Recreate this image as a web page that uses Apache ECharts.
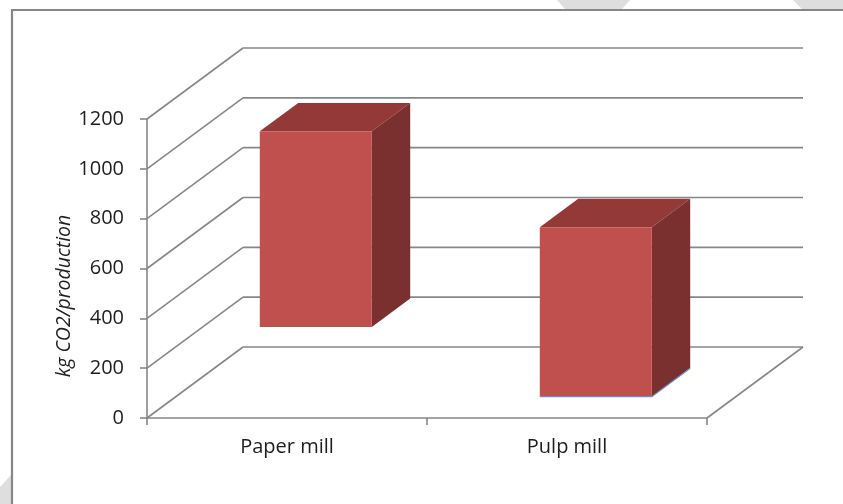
<!DOCTYPE html>
<html><head><meta charset="utf-8">
<script src="https://cdn.jsdelivr.net/npm/echarts@6/dist/echarts.min.js"></script>
<style>html,body{margin:0;padding:0;background:#fff}#c{width:843px;height:504px}</style>
</head><body><div id="c"></div>
<script>
// ---- data ----
const categories = ['Paper mill', 'Pulp mill'];
const baseValues = [280, 0];     // invisible lower part of each floating bar
const barValues = [785, 680];    // visible part of each bar
const yTicks = [0, 200, 400, 600, 800, 1000, 1200];
const yTitle = 'kg CO2/production';

// ---- 3D styling ----
const DX = 96, DY = -71;             // depth of the 3D box (px)
const FRONT = 0.3, DEPTH = 0.4, BAR_W = 0.4;
const axisColor = '#878787';
const textColor = '#1e1e1e';
const FONT = 'Open Sans';
const wallStyle = {stroke: axisColor, lineWidth: 1.6, fill: null};

const chart = echarts.init(document.getElementById('c'), null, {renderer: 'canvas'});

function wallItem(params, api) {
  const cs = params.coordSys;
  const y = api.coord([0, api.value(1)])[1];
  const x0 = cs.x, x1 = cs.x + cs.width;
  const children = [
    {type: 'line', shape: {x1: x0, y1: y, x2: x0 + DX, y2: y + DY}, style: wallStyle},
    {type: 'line', shape: {x1: x0 + DX, y1: y + DY, x2: x1 + DX, y2: y + DY}, style: wallStyle}
  ];
  if (api.value(1) === 0) {
    children.push({type: 'line', shape: {x1: x1, y1: y, x2: x1 + DX, y2: y + DY}, style: wallStyle});
  }
  return {type: 'group', children};
}

function barItem(params, api) {
  const ci = api.value(0);
  const base = api.value(1), h = api.value(2);
  const band = api.size([1, 0])[0];
  const c = api.coord([ci, base]);
  const t = api.coord([ci, base + h]);
  const fx = FRONT * DX, fy = FRONT * DY, bx = DEPTH * DX, by = DEPTH * DY;
  const w = band * BAR_W;
  const L = c[0] - w / 2 + fx, R = L + w;
  const B = c[1] + fy, T = t[1] + fy;
  const children = [
    {type: 'polygon', shape: {points: [[L, T], [R, T], [R + bx, T + by], [L + bx, T + by]]},
     style: {fill: '#933a38'}},
    {type: 'polygon', shape: {points: [[R, T], [R + bx, T + by], [R + bx, B + by], [R, B]]},
     style: {fill: '#7a302e'}},
    {type: 'rect', shape: {x: L, y: T, width: w, height: B - T}, style: {fill: '#c0504d'}}
  ];
  if (base === 0) {
    children.push({type: 'polyline', shape: {points: [[L, B], [R, B], [R + bx, B + by]]},
      style: {stroke: '#6f8fc8', lineWidth: 1.2, fill: null}});
  }
  return {type: 'group', children};
}

const option = {
  animation: false,
  backgroundColor: '#ffffff',
  grid: {left: 147, right: 136, top: 119, bottom: 86, containLabel: false, outerBoundsMode: 'none'},
  xAxis: {
    type: 'category', data: categories,
    axisLine: {show: true, lineStyle: {color: axisColor, width: 1.6}},
    axisTick: {show: true, length: 7, lineStyle: {color: axisColor, width: 1.6}},
    axisLabel: {fontSize: 20, color: textColor, margin: 19, fontFamily: FONT},
    splitLine: {show: false}
  },
  yAxis: {
    type: 'value', min: 0, max: 1200, interval: 200,
    axisLine: {show: true, lineStyle: {color: axisColor, width: 1.6}},
    axisTick: {show: true, length: 7, lineStyle: {color: axisColor, width: 1.6}},
    splitLine: {show: false},
    axisLabel: {fontSize: 20, color: textColor, margin: 23, fontFamily: FONT,
                formatter: v => String(v)}
  },
  graphic: [
    {type: 'polygon', shape: {points: [[557, 0], [630, 0], [622, 9], [565, 9]]}, style: {fill: '#dedede'}, silent: true},
    {type: 'polygon', shape: {points: [[793, 0], [843, 0], [843, 9], [802, 9]]}, style: {fill: '#dedede'}, silent: true},
    {type: 'polygon', shape: {points: [[0, 487], [11, 475], [11, 504], [0, 504]]}, style: {fill: '#dedede'}, silent: true},
    {type: 'rect', shape: {x: 12, y: 10, width: 1000, height: 1000}, style: {fill: null, stroke: axisColor, lineWidth: 2.2}, silent: true},
    {type: 'text', x: 64, y: 296, rotation: Math.PI / 2, silent: true,
     style: {text: yTitle, fontSize: 19.5, fontStyle: 'italic', fontFamily: FONT, fill: textColor,
             align: 'center', verticalAlign: 'middle'}}
  ],
  series: [
    {type: 'custom', name: 'walls', renderItem: wallItem, clip: false, z: 1, silent: true,
     data: yTicks.map(v => [0, v]), encode: {x: 0, y: 1}},
    {type: 'custom', name: 'bars', renderItem: barItem, clip: false, z: 3,
     data: categories.map((c, i) => [i, baseValues[i], barValues[i]]), encode: {x: 0, y: [1, 2]}}
  ]
};
chart.setOption(option);
</script>
</body></html>
